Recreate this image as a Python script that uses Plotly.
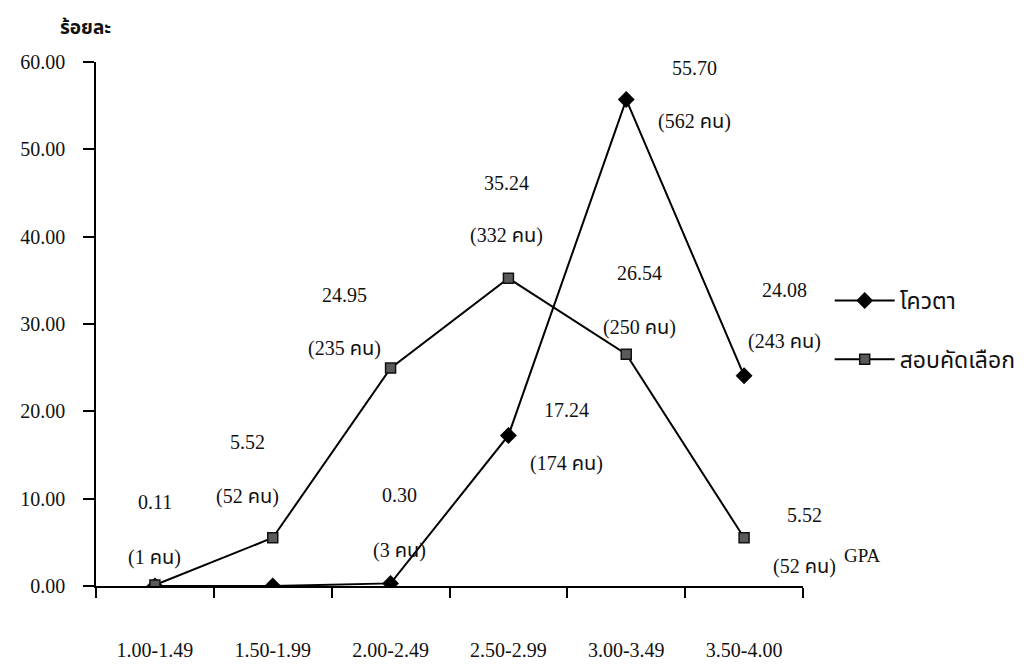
import plotly.graph_objects as go

categories = ["1.00-1.49", "1.50-1.99", "2.00-2.49", "2.50-2.99", "3.00-3.49", "3.50-4.00"]
quota_pct = [0, 0, 0.30, 17.24, 55.70, 24.08]
exam_pct = [0.11, 5.52, 24.95, 35.24, 26.54, 5.52]
quota_n = [None, None, 3, 174, 562, 243]
exam_n = [1, 52, 235, 332, 250, 52]
y_ticks = [0, 10, 20, 30, 40, 50, 60]

# label offsets (px) relative to the point: (dx, dy_value, dy_count), dy positive = up
exam_off = [(0, 83, 28), (-25, 96, 41), (-46, 73, 20), (-2, 95, 43), (13, 81, 27), (60, 23, -29)]
quota_off = [None, None, (9, 88, 33), (58, 25, -28), (68, 32, -22), (40, 86, 34)]

FONT = "Liberation Serif, Times New Roman, serif"
THAI = "Liberation Serif, Noto Sans Thai, Garuda, Loma, Tlwg Typo, sans-serif"
FS = 20

# page body has an 8px margin; plot area in page px: left 88, top 62, right 803, bottom 586
OFF = 8
W, H = 1027, 668
L, T = 88 - OFF, 62 - OFF
R = W - (803 - OFF)
B = H - (586 - OFF)
pw, ph = W - L - R, H - T - B

def paper_xy(px, py):
    return (px - OFF - L) / pw, (H - B - (py - OFF)) / ph

fig = go.Figure()
fig.add_trace(go.Scatter(
    x=categories, y=quota_pct, mode="lines+markers", name="โควตา",
    legendgroup="q",
    line=dict(color="black", width=2),
    marker=dict(symbol="diamond", size=13, color="black"),
))
fig.add_trace(go.Scatter(
    x=categories, y=exam_pct, mode="lines+markers", name="สอบคัดเลือก",
    legendgroup="e",
    line=dict(color="black", width=2),
    marker=dict(symbol="square", size=10, color="#5a5a5a", line=dict(color="#111111", width=1.5)),
))

ann = []
def add_labels(vals, counts, offs):
    for i, (v, n, o) in enumerate(zip(vals, counts, offs)):
        if o is None:
            continue
        dx, dyv, dyc = o
        ann.append(dict(x=categories[i], y=v, xref="x", yref="y", text=f"{v:.2f}",
                        showarrow=False, xshift=dx, yshift=dyv,
                        font=dict(family=FONT, size=FS, color="#111")))
        ann.append(dict(x=categories[i], y=v, xref="x", yref="y", text=f"({n} คน)",
                        showarrow=False, xshift=dx, yshift=dyc,
                        font=dict(family=THAI, size=FS, color="#111")))

add_labels(exam_pct, exam_n, exam_off)
add_labels(quota_pct, quota_n, quota_off)

ax, ay = paper_xy(77, 27)
ann.append(dict(x=ax, y=ay, xref="paper", yref="paper", xanchor="center", yanchor="middle",
                text="<b>ร้อยละ</b>", showarrow=False,
                font=dict(family=THAI, size=19, color="#111")))
gx, gy = paper_xy(863, 555)
ann.append(dict(x=gx, y=gy, xref="paper", yref="paper", xanchor="center", yanchor="middle",
                text="GPA", showarrow=False,
                font=dict(family=FONT, size=19, color="#111")))

lx, ly = paper_xy(830, 279)

fig.update_layout(
    width=W, height=H,
    margin=dict(l=L, r=R, t=T, b=B, pad=0),
    paper_bgcolor="white", plot_bgcolor="white",
    font=dict(family=FONT, size=FS, color="#111"),
    annotations=ann,
    showlegend=True,
    legend=dict(x=lx, y=ly, xanchor="left", yanchor="top",
                itemwidth=60, tracegroupgap=26, bgcolor="rgba(0,0,0,0)",
                font=dict(family=THAI, size=23, color="#111")),
    xaxis=dict(
        type="category", range=[-0.5, 5.5], showline=True, linecolor="black", linewidth=1.5,
        ticks="outside", tickson="boundaries", ticklen=10, tickcolor="black", tickwidth=1.5,
        showgrid=False, zeroline=False, ticklabelstandoff=45,
        tickfont=dict(family=FONT, size=FS, color="#111"),
    ),
    yaxis=dict(
        range=[0, 60], tickvals=y_ticks, tickformat=".2f", showline=True, linecolor="black",
        linewidth=1.5, ticks="outside", ticklen=11, tickcolor="black", tickwidth=1.5,
        showgrid=False, zeroline=False, ticklabelstandoff=14,
        tickfont=dict(family=FONT, size=FS, color="#111"),
    ),
)

fig.write_html("out.html")
